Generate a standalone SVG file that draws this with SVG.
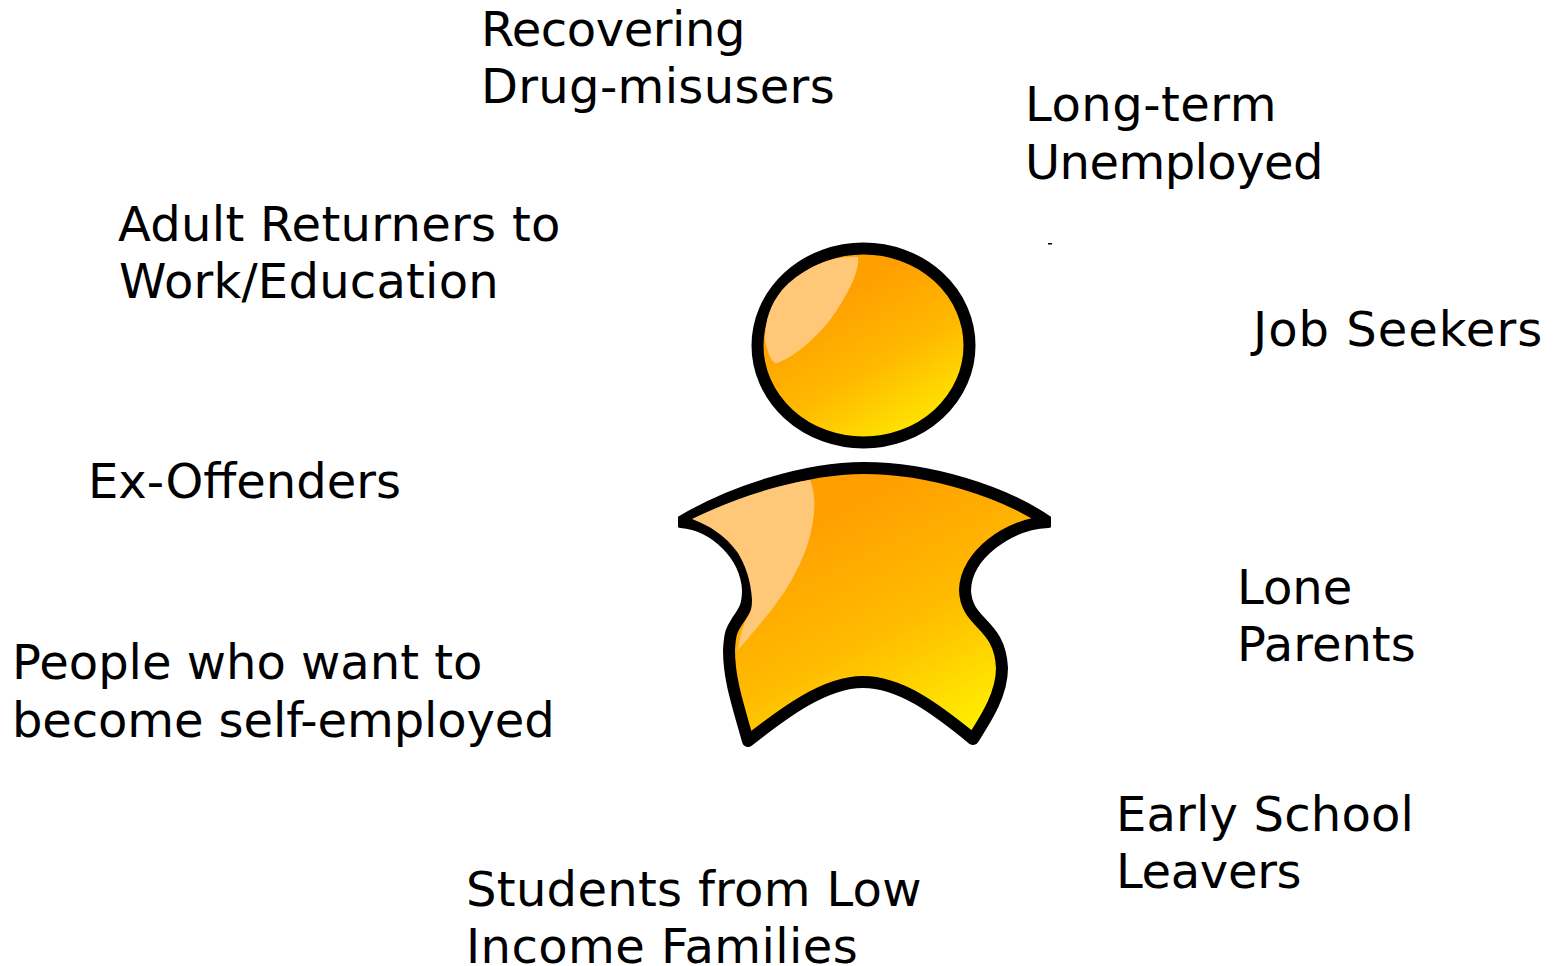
<svg xmlns="http://www.w3.org/2000/svg" width="1553" height="966" viewBox="0 0 1553 966">
<style>
text{font-family:"DejaVu Sans",Verdana,sans-serif;font-size:48px;fill:#000}
.o{stroke:#000;stroke-width:12;stroke-linejoin:round}
.h{fill:#ffc878}
</style>
<defs>
<linearGradient id="gh" gradientUnits="userSpaceOnUse" x1="828" y1="300" x2="905" y2="438"><stop offset="0" stop-color="#ff9f00"/><stop offset=".5" stop-color="#ffb800"/><stop offset="1" stop-color="#ffe600"/></linearGradient>
<linearGradient id="gb" gradientUnits="userSpaceOnUse" x1="830" y1="510" x2="950" y2="745"><stop offset="0" stop-color="#ff9f00"/><stop offset=".5" stop-color="#ffbb00"/><stop offset="1" stop-color="#fff000"/></linearGradient>
<clipPath id="cb"><rect x="678" y="450" width="373" height="310"/></clipPath>
</defs>
<rect width="1553" height="966" fill="#fff"/>
<g id="person">
<ellipse class="o" cx="863.500" cy="345.500" rx="106" ry="97" fill="url(#gh)"/>
<path class="h" d="M858 257C860 270 848 295 830 320C812 342 792 358 777 363C771 364 767 350 765 340C765 320 770 305 782 290C800 270 830 255 858 257Z"/>
<g clip-path="url(#cb)">
<path class="o" fill="url(#gb)" d="M681 522C730 492 805 468 864 468C930 468 1005 492 1048 522C1008 524 966 555 965 590C966 625 1000 622 1002 668C1002 695 985 720 973 739C935 708 900 682 863 682C825 682 785 712 748 741C738 705 729 680 729 650C730 630 733 628 738 620C745 610 748 605 748 590C746 555 715 525 681 522Z"/>
</g>
<path class="h" d="M692 519C725 503 770 486 810 480C816 495 815 510 812 527C808 548 800 565 790 583C775 608 755 630 738 650C740 635 742 630 745 622C750 615 752 610 752 600C751 580 745 565 738 553C725 535 710 526 692 519Z"/>
<rect x="1048" y="243" width="4" height="1.500" fill="#000"/>
</g>
<g id="label-recovering"><text x="481" y="46" letter-spacing="-.44">Recovering</text><text x="481" y="103" letter-spacing=".33">Drug-misusers</text></g>
<g id="label-longterm"><text x="1025" y="121" letter-spacing=".5">Long-term</text><text x="1025" y="179" letter-spacing="-.55">Unemployed</text></g>
<g id="label-adult"><text x="118" y="241" letter-spacing=".3">Adult Returners to</text><text x="119" y="298" letter-spacing=".23">Work/Education</text></g>
<g id="label-job"><text x="1253" y="346" letter-spacing="1">Job Seekers</text></g>
<g id="label-ex"><text x="88" y="498">Ex-Offenders</text></g>
<g id="label-lone"><text x="1237" y="604">Lone</text><text x="1237" y="661">Parents</text></g>
<g id="label-self"><text x="12" y="679">People who want to</text><text x="12" y="737" letter-spacing="-.1">become self-employed</text></g>
<g id="label-early"><text x="1116" y="831" letter-spacing=".18">Early School</text><text x="1116" y="888" letter-spacing="-.33">Leavers</text></g>
<g id="label-students"><text x="466" y="906" letter-spacing=".3">Students from Low</text><text x="466" y="963" letter-spacing=".43">Income Families</text></g>
<g id="connectors"/>
</svg>
